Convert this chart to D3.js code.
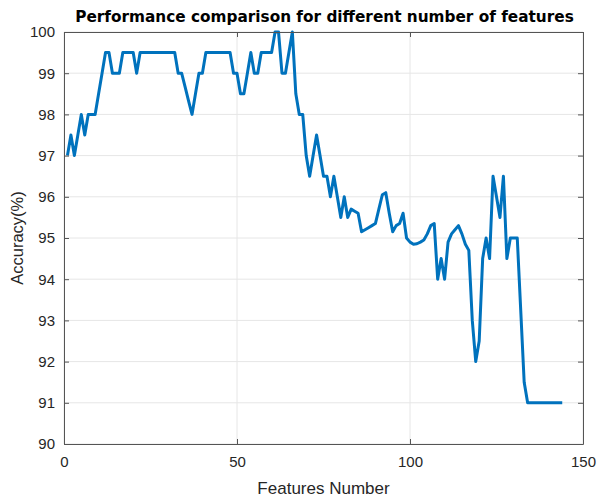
<!DOCTYPE html>
<html><head><meta charset="utf-8">
<script src="https://cdn.jsdelivr.net/npm/d3@7"></script>
<style>
body{margin:0;background:#fff;}
svg{display:block;font-family:"Liberation Sans",Arial,sans-serif;}
</style></head>
<body><svg id="c" width="598" height="499"></svg>
<script>
const title = "Performance comparison for different number of features";
const xLabel = "Features Number";
const yLabel = "Accuracy(%)";
const xTicks = [0, 50, 100, 150];
const yTicks = [90, 91, 92, 93, 94, 95, 96, 97, 98, 99, 100];
const accuracy = [
  97, 97.5, 97, 97.5, 98, 97.5, 98, 98, 98, 98.5,
  99, 99.5, 99.5, 99, 99, 99, 99.5, 99.5, 99.5, 99.5,
  99, 99.5, 99.5, 99.5, 99.5, 99.5, 99.5, 99.5, 99.5, 99.5,
  99.5, 99.5, 99, 99, 98.67, 98.33, 98, 98.5, 99, 99,
  99.5, 99.5, 99.5, 99.5, 99.5, 99.5, 99.5, 99.5, 99, 99,
  98.5, 98.5, 99, 99.5, 99, 99, 99.5, 99.5, 99.5, 99.5,
  100, 100, 99, 99, 99.5, 100, 98.5, 98, 98, 97,
  96.5, 97, 97.5, 97, 96.5, 96.5, 96, 96.5, 96, 95.5,
  96, 95.5, 95.7, 95.65, 95.6, 95.15, 95.2, 95.25, 95.3, 95.35,
  95.7, 96.05, 96.1, 95.6, 95.15, 95.3, 95.35, 95.6, 95.0, 94.9,
  94.85, 94.86, 94.9, 94.95, 95.1, 95.3, 95.35, 94, 94.5, 94,
  94.9, 95.1, 95.2, 95.3, 95.1, 94.85, 94.7, 93, 92, 92.5,
  94.5, 95, 94.5, 96.5, 96, 95.5, 96.5, 94.5, 95, 95,
  95, 93.25, 91.5, 91, 91, 91, 91, 91, 91, 91,
  91, 91, 91, 91
];
const features = accuracy.map((d, i) => i + 1);

const svg = d3.select("#c");
const L = 64, R = 583, T = 32, B = 444;
const x = d3.scaleLinear().domain([0, 150]).range([L, R]);
const y = d3.scaleLinear().domain([90, 100]).range([B, T]);

// grid
const g = svg.append("g");
g.selectAll("line.gy").data(yTicks).join("line")
  .attr("x1", L).attr("x2", R).attr("y1", d => y(d)).attr("y2", d => y(d))
  .attr("stroke", "#e6e6e6").attr("stroke-width", 1);
g.selectAll("line.gx").data(xTicks).join("line")
  .attr("y1", T).attr("y2", B).attr("x1", d => x(d)).attr("x2", d => x(d))
  .attr("stroke", "#e6e6e6").attr("stroke-width", 1);

// line
svg.append("path").datum(accuracy)
  .attr("fill", "none").attr("stroke", "#0072BD").attr("stroke-width", 3)
  .attr("stroke-linejoin", "round")
  .attr("d", d3.line().x((d, i) => x(features[i])).y(d => y(d)));

// axes (MATLAB box with inward ticks)
const axColor = "#262626";
const axB = svg.append("g").attr("transform", `translate(0,${B})`)
  .call(d3.axisBottom(x).tickValues(xTicks).tickSizeInner(-5).tickSizeOuter(0).tickPadding(12));
const axT = svg.append("g").attr("transform", `translate(0,${T})`)
  .call(d3.axisTop(x).tickValues(xTicks).tickSizeInner(-5).tickSizeOuter(0).tickFormat(""));
const axL = svg.append("g").attr("transform", `translate(${L},0)`)
  .call(d3.axisLeft(y).tickValues(yTicks).tickSizeInner(-5).tickSizeOuter(0).tickPadding(9));
const axR = svg.append("g").attr("transform", `translate(${R},0)`)
  .call(d3.axisRight(y).tickValues(yTicks).tickSizeInner(-5).tickSizeOuter(0).tickFormat(""));
[axB, axT, axL, axR].forEach(a => {
  a.select(".domain").attr("stroke", "#555").attr("stroke-width", 1);
  a.selectAll(".tick line").attr("stroke", "#555");
  a.selectAll("text").attr("fill", axColor).style("font-size", "15px")
    .style("font-family", "'Liberation Sans',Arial,sans-serif");
});

svg.append("text").attr("x", (L + R) / 2 + 1).attr("y", 22).attr("text-anchor", "middle")
  .style("font-size", "15.3px").style("font-weight", "bold")
  .style("font-family", "'DejaVu Sans',sans-serif").attr("fill", "#000").text(title);
svg.append("text").attr("x", (L + R) / 2).attr("y", 494).attr("text-anchor", "middle")
  .style("font-size", "17px").attr("fill", axColor).text(xLabel);
svg.append("text").attr("transform", `translate(23,${(T + B) / 2}) rotate(-90)`)
  .attr("text-anchor", "middle").style("font-size", "16.5px").attr("fill", axColor).text(yLabel);
</script></body></html>
